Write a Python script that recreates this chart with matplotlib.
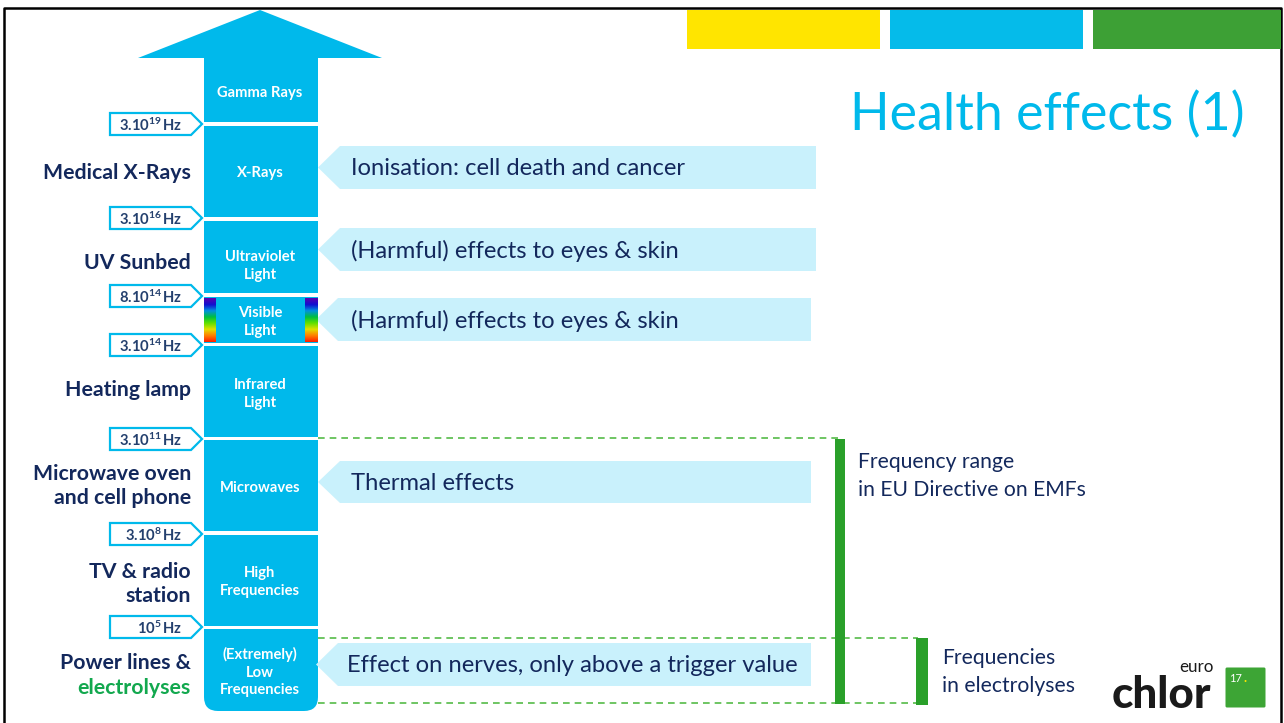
import matplotlib
matplotlib.use("Agg")
import matplotlib.pyplot as plt
from matplotlib.patches import Polygon, Rectangle, FancyBboxPatch
from matplotlib.colors import LinearSegmentedColormap
import numpy as np

# ---------------- data ----------------
bands = ["Gamma Rays", "X-Rays", "Ultraviolet\nLight", "Visible\nLight",
         "Infrared\nLight", "Microwaves", "High\nFrequencies",
         "(Extremely)\nLow\nFrequencies"]
freq_mantissa = ["3.10", "3.10", "8.10", "3.10", "3.10", "3.10", "10"]
freq_exponent = ["19", "16", "14", "14", "11", "8", "5"]
sources = ["", "Medical X-Rays", "UV Sunbed", "", "Heating lamp",
           "Microwave oven\nand cell phone", "TV & radio\nstation", ""]
effects = ["", "Ionisation: cell death and cancer",
           "(Harmful) effects to eyes & skin",
           "(Harmful) effects to eyes & skin", "", "Thermal effects", "",
           "Effect on nerves, only above a trigger value"]
title = "Health effects (1)"
eu_range_label = "Frequency range\nin EU Directive on EMFs"
electro_label = "Frequencies\nin electrolyses"

# ---------------- layout (pixels) ----------------
band_top = [58, 126, 221, 297, 346, 440, 535, 629]
band_bot = [122, 217, 293, 343, 437, 531, 626, 711]
band_label_y = [93, 173, 266, 322, 394, 488, 582, 672]
source_y = [0, 173, 263, 0, 390, 486, 584, 0]
freq_y = [124, 218, 296, 345, 439, 534, 627]
callout = {1: (146, 189, 816, 318, 351), 2: (228, 271, 816, 318, 351),
           3: (298, 341, 811, 316, 351), 5: (461, 503, 811, 318, 351),
           7: (643, 686, 811, 316, 347)}

CYAN = "#00B9EB"
LIGHT = "#C9F1FC"
NAVY = "#13285C"
GREEN = "#2AA02A"
DASH = "#55BB48"
FONT = "Lato"

plt.rcParams["font.family"] = [FONT, "DejaVu Sans"]
plt.rcParams["mathtext.fontset"] = "custom"
plt.rcParams["mathtext.rm"] = FONT + ":bold"
plt.rcParams["mathtext.default"] = "rm"

W, H = 1284, 723
fig = plt.figure(figsize=(W / 100, H / 100), dpi=100)
ax = fig.add_axes([0, 0, 1, 1])
ax.set_xlim(0, W)
ax.set_ylim(H, 0)
ax.axis("off")

def px(p):
    return p * 0.72

# frame
ax.plot([4, 4, 1281, 1281], [723, 8, 8, 723], color="black", lw=1.8, zorder=1)
# top colour bars
for x0, x1, c in [(687, 880, "#FFE500"), (890, 1083, "#05BBEA"), (1093, 1281, "#3DA035")]:
    ax.add_patch(Rectangle((x0, 10), x1 - x0, 39, color=c, lw=0, zorder=2))

ax.text(1245, 130, title, ha="right", va="baseline", color=CYAN,
        fontsize=px(52), zorder=3)

# column
cx0, cx1 = 204, 318
ax.add_patch(Polygon([(138, 58), (260, 10), (382, 58), (cx1, 58), (cx1, band_bot[0]),
                      (cx0, band_bot[0]), (cx0, 58)], closed=True, color=CYAN, lw=0))
for i in range(1, len(bands)):
    t, b = band_top[i], band_bot[i]
    if i == len(bands) - 1:
        r = 14
        ax.add_patch(FancyBboxPatch((cx0 + r, t + r), cx1 - cx0 - 2 * r, b - t - 2 * r,
                                    boxstyle=f"round,pad={r}", color=CYAN, lw=0,
                                    mutation_aspect=1))
        ax.add_patch(Rectangle((cx0, t), cx1 - cx0, 2 * r, color=CYAN, lw=0))
    else:
        ax.add_patch(Rectangle((cx0, t), cx1 - cx0, b - t, color=CYAN, lw=0))

# rainbow strips for visible light
rain = LinearSegmentedColormap.from_list("rain", ["#5A00B0", "#1010D0", "#0090E0",
                                                  "#00C040", "#60E000", "#E0E000",
                                                  "#FF8000", "#FF2000"])
grad = np.linspace(0, 1, 64).reshape(-1, 1)
for x0, x1 in [(204, 216), (305, 318)]:
    ax.imshow(grad, cmap=rain, extent=(x0, x1, band_bot[3] - 1, band_top[3] + 1),
              origin="upper", aspect="auto", zorder=3, interpolation="bilinear")

for i, lab in enumerate(bands):
    ax.text(260, band_label_y[i], lab, ha="center", va="center", color="white",
            fontsize=px(14.8), fontweight="bold", linespacing=1.3, zorder=4)

# frequency labels
for m, e, y in zip(freq_mantissa, freq_exponent, freq_y):
    ax.add_patch(Polygon([(110, y - 11), (191, y - 11), (202, y), (191, y + 11),
                          (110, y + 11)], closed=True, facecolor="white",
                         edgecolor=CYAN, lw=1.6, zorder=3))
    ax.text(182, y + 1, m + r"$^{" + e + r"}$" + "\u2009Hz", ha="right", va="center",
            color="#24406E", fontsize=px(14.8), fontweight="bold", zorder=4)

# source labels
for s, y in zip(sources, source_y):
    if s:
        ax.text(191, y, s, ha="right", va="center", color=NAVY, fontsize=px(21.3),
                fontweight="bold", linespacing=1.2)
ax.text(191, 663, "Power lines &", ha="right", va="center", color=NAVY,
        fontsize=px(21.3), fontweight="bold")
ax.text(191, 688, "electrolyses", ha="right", va="center", color="#12A84E",
        fontsize=px(21.3), fontweight="bold")

# effect callouts
for i, (t, b, r, tip, tx) in callout.items():
    c = (t + b) / 2
    ax.add_patch(Polygon([(tip, c), (tip + 22, t), (r, t), (r, b), (tip + 22, b)],
                         closed=True, color=LIGHT, lw=0, zorder=2))
    ax.text(tx, c + 1, effects[i], ha="left", va="center", color=NAVY,
            fontsize=px(23.8), zorder=3)

# dashed range lines
dkw = dict(color=DASH, lw=1.2, ls=(0, (4, 3)), zorder=1)
ax.plot([318, 838], [438, 438], **dkw)
ax.plot([318, 918], [638, 638], **dkw)
ax.plot([318, 918], [703, 703], **dkw)

# green range bars
ax.add_patch(Rectangle((835, 439), 10, 265, color=GREEN, lw=0, zorder=2))
ax.add_patch(Rectangle((916, 638), 12, 67, color=GREEN, lw=0, zorder=2))
ax.text(858, 476, eu_range_label, ha="left", va="center", color=NAVY,
        fontsize=px(21.2), linespacing=1.45)
ax.text(942, 672, electro_label, ha="left", va="center", color=NAVY,
        fontsize=px(21.2), linespacing=1.45)

# logo
ax.text(1112, 708, "chlor", ha="left", va="baseline", color="#1A1A1A",
        fontsize=px(44), fontweight="black")
ax.text(1214, 672, "euro", ha="right", va="baseline", color="#1A1A1A",
        fontsize=px(17))
ax.add_patch(FancyBboxPatch((1227, 669), 37, 37, boxstyle="round,pad=1.5",
                            color="#3DA535", lw=0))
ax.text(1229, 682, "17", ha="left", va="baseline", color="white", fontsize=px(11))
ax.text(1243, 682, ".", ha="left", va="baseline", color="#FFE500", fontsize=px(13),
        fontweight="bold")

fig.savefig("out.png", dpi=100)
